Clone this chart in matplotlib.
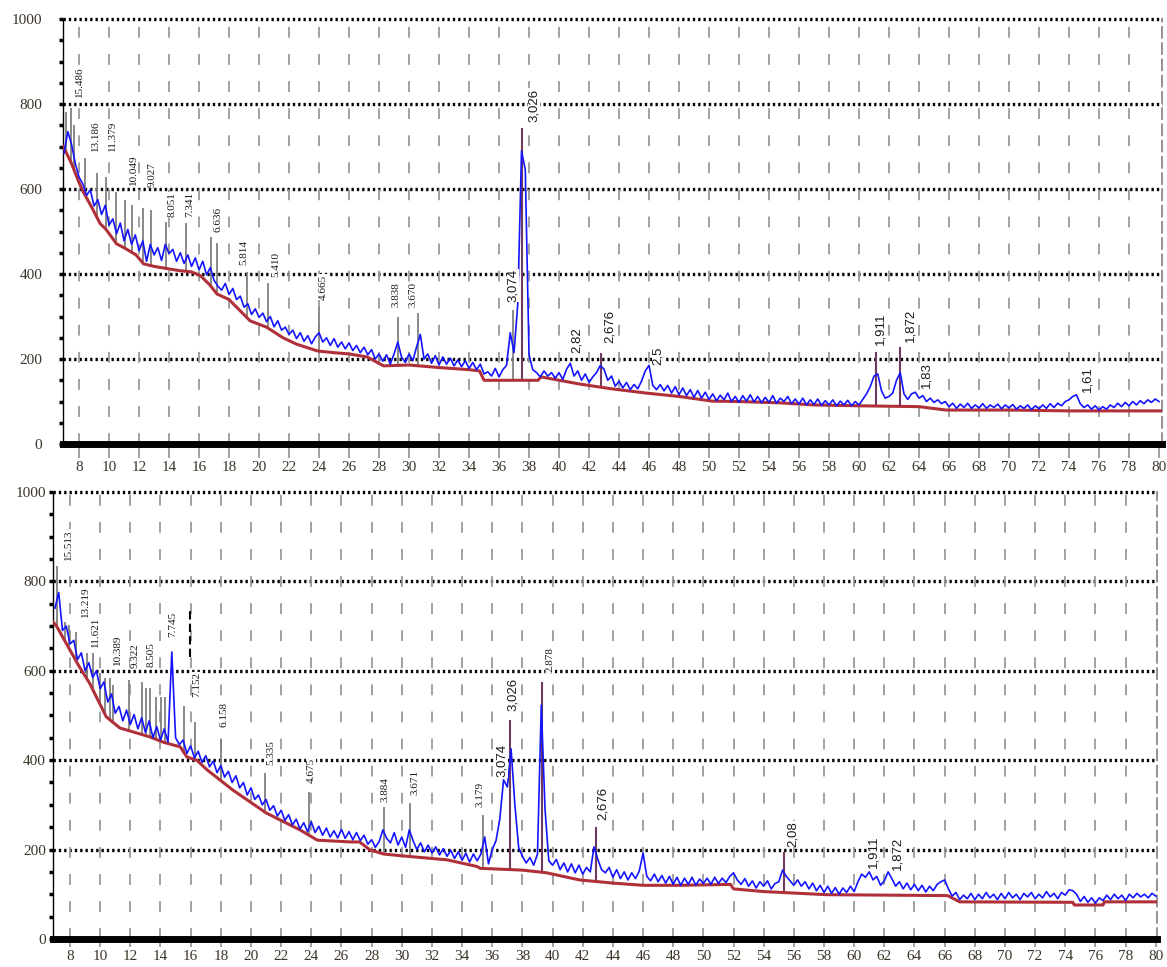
import matplotlib
matplotlib.use('Agg')
import matplotlib.pyplot as plt
import numpy as np

# ---- top pattern -------------------------------------------------------
# measured intensity, 0.25 deg steps from 7.0 to 80.0 (one row = 2 deg)
top_counts = [
    685, 735, 705, 660, 628, 612, 585, 598,   # 7
    560, 575, 540, 562, 515, 530, 495, 520,   # 9
    478, 505, 470, 492, 455, 478, 430, 470,   # 11
    445, 462, 432, 470, 448, 458, 430, 450,   # 13
    425, 445, 418, 438, 410, 430, 398, 415,   # 15
    385, 372, 362, 378, 352, 366, 340, 348,   # 17
    322, 330, 305, 318, 298, 308, 288, 300,   # 19
    276, 290, 268, 275, 258, 268, 248, 262,   # 21
    242, 255, 236, 252, 262, 240, 250, 232,   # 23
    248, 228, 240, 224, 238, 220, 232, 215,   # 25
    228, 210, 222, 200, 212, 195, 210, 188,   # 27
    212, 240, 205, 192, 212, 196, 228, 258,   # 29
    200, 212, 190, 208, 186, 205, 188, 202,   # 31
    184, 198, 182, 196, 178, 192, 175, 188,   # 33
    165, 170, 160, 178, 158, 175, 185, 262,   # 35
    215, 330, 690, 645, 210, 175, 168, 158,   # 37
    172, 160, 168, 155, 168, 152, 176, 190,   # 39
    160, 172, 150, 165, 145, 158, 168, 185,   # 41
    176, 150, 160, 136, 148, 132, 145, 128,   # 43
    140, 130, 148, 172, 185, 138, 128, 140,   # 45
    125, 138, 120, 135, 116, 132, 114, 128,   # 47
    110, 126, 108, 122, 105, 118, 102, 115,   # 49
    104, 120, 100, 112, 98, 114, 101, 116,    # 51
    99, 112, 97, 110, 98, 114, 96, 108,       # 53
    100, 112, 95, 106, 94, 108, 92, 104,      # 55
    93, 106, 91, 102, 92, 104, 90, 101,       # 57
    92, 103, 90, 100, 92, 105, 118, 135,      # 59
    160, 165, 125, 108, 112, 120, 150, 168,   # 61
    118, 105, 118, 122, 108, 114, 100, 108,   # 63
    98, 104, 95, 100, 88, 96, 84, 94,         # 65
    86, 96, 84, 92, 85, 95, 84, 92,           # 67
    86, 94, 83, 92, 85, 93, 82, 90,           # 69
    84, 92, 81, 90, 83, 92, 84, 95,           # 71
    86, 96, 90, 100, 104, 112, 116, 95,       # 73
    86, 92, 82, 90, 80, 88, 82, 92,           # 75
    86, 96, 88, 98, 90, 100, 92, 102,         # 77
    95, 104, 98, 106, 100,                    # 79
]
top_bg_x = [6.95, 7.5, 8.0, 8.3, 8.8, 9.4, 9.8, 10.5, 11.0, 11.8, 12.3, 13.0,
            14.0, 14.7, 15.5, 16.1, 16.7, 17.2, 18.0, 18.7, 19.4, 20.5, 21.6,
            22.5, 23.9, 25.0, 26.0, 27.2, 28.3, 30.0, 32.0, 34.0, 34.7, 35.0,
            38.6, 38.8, 41.4, 43.5, 45.8, 48.0, 50.2, 52.0, 54.7, 57.0, 60.0,
            64.0, 65.8, 70.0, 74.0, 80.2]
top_bg_y = [700, 660, 615, 592, 560, 519, 505, 471, 462, 445, 424, 418,
            412, 408, 405, 396, 375, 353, 340, 315, 290, 275, 250,
            235, 219, 215, 212, 205, 184, 186, 180, 175, 172, 150,
            150, 158, 141, 130, 120, 112, 101, 100, 97, 92, 90,
            88, 80, 80, 78, 78]
top_sticks_x = [7.1, 7.47, 7.67, 8.4, 9.18, 9.8, 10.47, 11.07, 11.5, 12.29,
                12.8, 13.78, 15.11, 16.78, 17.2, 19.18, 20.62, 24.02, 29.25,
                30.6, 36.9]
top_sticks_top = [781, 790, 751, 673, 637, 628, 593, 574, 562, 555,
                  550, 522, 520, 487, 473, 405, 379, 322, 299,
                  308, 315]
top_main_x = [37.53, 42.8, 61.15, 62.7]
top_main_top = [744, 214, 216, 228]
top_lab_dot = ["15.486", "13.186", "11.379", "10.049", "9.027", "8.051",
               "7.341", "6.636", "5.814", "5.410", "4.665", "3.838", "3.670"]
top_lab_dot_x = [8.0, 9.07, 10.2, 11.6, 12.87, 14.2, 15.4, 17.27, 19.0,
                 21.13, 24.27, 29.13, 30.27]
top_lab_dot_y = [816, 690, 690, 609, 605, 534, 534, 499, 421, 393, 339, 322, 322]
top_lab_com = ["3,074", "3,026", "2,82", "2,676", "2,5", "1,911", "1,872",
               "1,83", "1,61"]
top_lab_com_x = [36.93, 38.33, 41.2, 43.4, 46.6, 61.4, 63.4, 64.5, 75.2]
top_lab_com_y = [334, 758, 214, 238, 186, 233, 240, 132, 122]

# ---- bottom pattern ----------------------------------------------------
bot_counts = [
    740, 775, 690, 700, 660, 668, 625, 640,   # 7
    600, 618, 585, 600, 560, 575, 530, 548,   # 9
    505, 520, 488, 512, 480, 502, 470, 495,   # 11
    462, 488, 450, 475, 445, 470, 440, 642,   # 13
    450, 435, 445, 415, 432, 405, 420, 395,   # 15
    410, 385, 398, 372, 388, 362, 375, 350,   # 17
    365, 338, 350, 322, 338, 312, 322, 300,   # 19
    312, 288, 298, 275, 288, 265, 278, 255,   # 21
    268, 246, 260, 240, 262, 238, 252, 232,   # 23
    248, 228, 242, 226, 245, 225, 240, 222,   # 25
    238, 220, 232, 212, 222, 205, 218, 244,   # 27
    225, 215, 238, 210, 228, 205, 244, 220,   # 29
    200, 215, 195, 210, 192, 206, 188, 202,   # 31
    185, 198, 180, 195, 176, 192, 172, 190,   # 33
    175, 190, 228, 168, 200, 220, 268, 356,   # 35
    340, 425, 300, 205, 185, 170, 182, 165,   # 37
    190, 523, 290, 175, 165, 178, 155, 170,   # 39
    150, 168, 148, 165, 145, 160, 150, 206,   # 41
    178, 155, 148, 160, 138, 155, 135, 150,   # 43
    132, 148, 135, 152, 192, 140, 130, 145,   # 45
    128, 142, 125, 140, 122, 138, 120, 136,   # 47
    122, 138, 120, 134, 124, 136, 122, 138,   # 49
    124, 136, 126, 140, 148, 132, 122, 135,   # 51
    118, 130, 114, 128, 118, 130, 112, 124,   # 53
    128, 154, 140, 130, 120, 132, 118, 128,   # 55
    112, 125, 108, 120, 104, 118, 102, 115,   # 57
    100, 114, 104, 118, 106, 128, 145, 138,   # 59
    150, 132, 140, 120, 130, 150, 135, 118,   # 61
    128, 112, 125, 110, 122, 108, 120, 105,   # 63
    118, 108, 122, 128, 132, 112, 96, 104,    # 65
    88, 98, 90, 102, 88, 100, 90, 104,        # 67
    92, 100, 88, 102, 90, 104, 92, 100,       # 69
    88, 102, 94, 104, 90, 100, 92, 106,       # 71
    94, 102, 90, 104, 98, 110, 108, 100,      # 73
    84, 95, 82, 92, 80, 92, 86, 98,           # 75
    88, 100, 90, 98, 86, 100, 92, 102,        # 77
    94, 100, 92, 102, 96,                     # 79
]
bot_bg_x = [6.87, 7.07, 8.0, 8.6, 9.3, 10.4, 11.3, 12.0, 13.3, 14.2, 14.83,
            15.3, 15.75, 16.4, 17.1, 18.8, 21.0, 23.25, 24.4, 26.6, 27.2,
            27.9, 28.8, 30.0, 33.0, 35.0, 35.2, 38.0, 39.6, 41.8, 44.0, 46.0,
            48.45, 51.8, 52.0, 54.0, 58.2, 66.2, 67.0, 74.5, 74.6, 76.5,
            76.6, 80.1]
bot_bg_y = [709, 702, 646, 610, 572, 497, 472, 465, 452, 440, 434,
            430, 407, 400, 378, 333, 282, 244, 221, 217, 217,
            199, 190, 186, 177, 162, 158, 154, 148, 132, 125, 120,
            120, 122, 112, 106, 99, 97, 83, 82, 76, 76,
            83, 83]
bot_sticks_x = [7.12, 7.67, 7.95, 8.4, 9.1, 9.5, 10.0, 10.35, 10.65, 10.87,
                11.9, 12.78, 13.05, 13.3, 13.72, 14.02, 14.33, 15.53, 16.31,
                18.03, 20.93, 23.85, 28.82, 30.55, 35.39]
bot_sticks_top = [834, 710, 702, 686, 640, 640, 596, 584, 584, 568,
                  579, 575, 562, 562, 541, 541, 541, 521, 485,
                  448, 371, 329, 295, 304, 277]
bot_main_x = [37.18, 39.3, 42.88, 55.35]
bot_main_top = [490, 575, 251, 195]
bot_mark_x = 15.95
bot_mark_y = (631, 743)
bot_lab_dot = ["15.513", "13.219", "11.621", "10.389", "9.322", "8.505",
               "7.745", "7.152", "6.158", "5.335", "4.675", "3.884", "3.671",
               "3.179", "2.878"]
bot_lab_dot_x = [7.87, 9.0, 9.72, 11.12, 12.3, 13.37, 14.83, 16.4, 18.2,
                 21.3, 23.98, 28.9, 30.88, 35.19, 39.83]
bot_lab_dot_y = [848, 720, 653, 613, 606, 609, 676, 541, 474, 389, 349, 306,
                 322, 295, 597]
bot_lab_com = ["3,074", "3,026", "2,676", "2,08", "1,911", "1,872"]
bot_lab_com_x = [36.65, 37.4, 43.35, 55.95, 61.25, 62.9]
bot_lab_com_y = [362, 510, 266, 206, 159, 154]

angles = np.arange(len(top_counts)) * 0.25 + 7.0
TICK_COL = '#3a3528'
SERIF = ['Liberation Serif', 'DejaVu Serif']
SANS = ['Liberation Sans', 'DejaVu Sans']
LAB_BOX = dict(facecolor='white', edgecolor='none', pad=0.3)


def draw_panel(ax, counts, bg_x, bg_y, sx, stop, mx, mtop,
               dlab, dx, dy, clab, cx, cy, xlim, ypad, xtick_len):
    ax.set_xlim(*xlim)
    ax.set_ylim(0, 1000)

    # grid
    for v in range(200, 1001, 200):
        ax.axhline(v, color='black', lw=2.4, ls=(0, (0.7, 0.9)), zorder=1,
                   clip_on=False)
    for v in range(8, 80, 2):
        ax.axvline(v, color='#9a9a9a', lw=1.3, ls=(0, (6, 9)), zorder=1)

    base = np.interp(sx, bg_x, bg_y)
    ax.vlines(sx, base, stop, color='#808080', lw=1.3, zorder=2)
    base = np.interp(mx, bg_x, bg_y)
    ax.vlines(mx, base, mtop, color='#6e3b5e', lw=1.5, zorder=2)

    ax.plot(bg_x, bg_y, color='#b0303a', lw=2.2, zorder=3)
    ax.plot(angles, counts, color='#1414ff', lw=1.2, zorder=4)

    for t, x, y in zip(dlab, dx, dy):
        ax.text(x, y, t, rotation=90, ha='center', va='bottom', fontsize=8,
                family=SERIF, color='#1a1a1a', zorder=5, bbox=LAB_BOX)
    for t, x, y in zip(clab, cx, cy):
        ax.text(x, y, t, rotation=90, ha='center', va='bottom', fontsize=9.5,
                family=SANS, color='#1a1a1a', zorder=5, bbox=LAB_BOX)

    ax.set_xticks(range(8, 81, 2))
    ax.set_yticks(range(0, 1001, 200))
    ax.set_yticks(range(0, 1001, 50), minor=True)
    ax.tick_params(axis='x', length=xtick_len, width=1.3, color='#9a9a9a', pad=2,
                   labelsize=11, labelcolor=TICK_COL)
    ax.tick_params(axis='y', which='both', length=3, width=2.5, color='black',
                   pad=ypad, labelsize=11, labelcolor=TICK_COL)
    for lab in ax.get_xticklabels() + ax.get_yticklabels():
        lab.set_family(SERIF)

    ax.spines['top'].set_visible(False)
    ax.spines['right'].set_color('#8a8a8a')
    ax.spines['right'].set_linestyle((0, (6, 3)))
    ax.spines['right'].set_linewidth(1.3)
    ax.spines['left'].set_linewidth(1.0)
    ax.spines['bottom'].set_linewidth(5)
    ax.spines['bottom'].set_zorder(6)


fig = plt.figure(figsize=(11.67, 9.67), dpi=100)
ax1 = fig.add_axes([0.0540, 0.5408, 0.9417, 0.4395])
ax2 = fig.add_axes([0.0454, 0.0290, 0.9460, 0.4623])

draw_panel(ax1, top_counts, top_bg_x, top_bg_y, top_sticks_x, top_sticks_top,
           top_main_x, top_main_top, top_lab_dot, top_lab_dot_x, top_lab_dot_y,
           top_lab_com, top_lab_com_x, top_lab_com_y, (6.93, 80.2), 12, 10)
draw_panel(ax2, bot_counts, bot_bg_x, bot_bg_y, bot_sticks_x, bot_sticks_top,
           bot_main_x, bot_main_top, bot_lab_dot, bot_lab_dot_x, bot_lab_dot_y,
           bot_lab_com, bot_lab_com_x, bot_lab_com_y, (6.87, 80.08), 2, 6)
ax2.vlines(bot_mark_x, *bot_mark_y, color='black', lw=1.5, ls=(0, (4, 2)), zorder=2)

fig.savefig('out.png', dpi=100)
